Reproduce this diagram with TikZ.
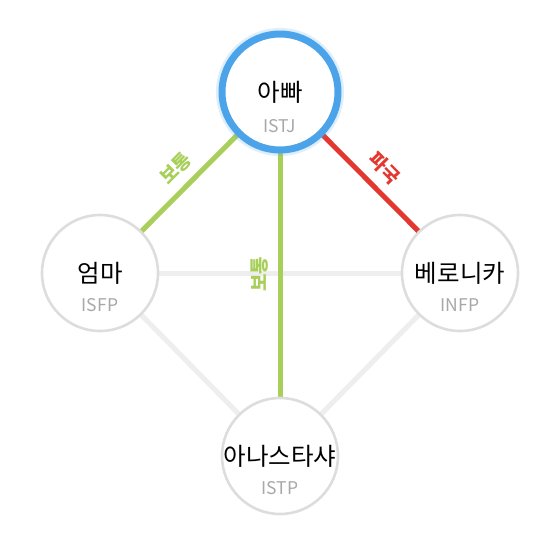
\documentclass[tikz,border=0pt]{standalone}
\usepackage{fontspec}
\setmainfont{Noto Sans CJK KR}
\definecolor{okgreen}{HTML}{A8CF5A}
\definecolor{badred}{HTML}{E2382F}
\definecolor{ringblue}{HTML}{4BA3E9}
\definecolor{ringgrey}{HTML}{DDDDDD}
\definecolor{edgegrey}{HTML}{EEEEEE}
\definecolor{typegrey}{HTML}{A8A8A8}
\tikzset{
  person/.style={circle, minimum size=116pt, inner sep=0pt, fill=white, draw=ringgrey, line width=2.6pt, font=\fontsize{24.5}{26}\selectfont, text=black},
  mainperson/.style={person, draw=ringblue, line width=7pt},
  mbti/.style={font=\fontsize{17.5}{19}\selectfont, text=typegrey, inner sep=0pt},
  weak/.style={draw=edgegrey, line width=5pt},
  goodedge/.style={draw=okgreen, line width=5pt},
  badedge/.style={draw=badred, line width=5pt},
  elabel/.style={midway, sloped, above=9pt, inner sep=0pt, font=\fontsize{19}{21}\selectfont\bfseries}
}
\begin{document}
\begin{tikzpicture}[x=1pt,y=-1pt]
\useasboundingbox[fill=white] (0,0) rectangle (560,560);
% coordinates of centres
\coordinate (ca) at (280,92);
\coordinate (cm) at (100,273);
\coordinate (cr) at (460,273);
\coordinate (cb) at (280,456);
% weak edges
\draw[weak] (cm) -- (cr);
\draw[weak] (cm) -- (cb);
\draw[weak] (cr) -- (cb);
% strong edges
\draw[goodedge] (ca) -- node[elabel, text=okgreen] {보통} (cm);
\draw[badedge] (ca) -- node[elabel, text=badred] {파국} (cr);
\draw[goodedge] (cb) -- node[elabel, text=okgreen] {보통} (ca);
% glow
\draw[ringblue, opacity=0.18, line width=11pt] (ca) circle (58.5pt);
% nodes
\node[mainperson] (a) at (ca) {아빠};
\node[person] (m) at (cm) {엄마};
\node[person] (r) at (cr) {베로니카};
\node[person] (b) at (cb) {아나스타샤};
\node[mbti] (at) at ([yshift=-34pt]a.center) {ISTJ};
\node[mbti] (mt) at ([yshift=-32pt]m.center) {ISFP};
\node[mbti] (rt) at ([yshift=-32pt]r.center) {INFP};
\node[mbti] (bt) at ([yshift=-32pt]b.center) {ISTP};
\end{tikzpicture}
\end{document}
